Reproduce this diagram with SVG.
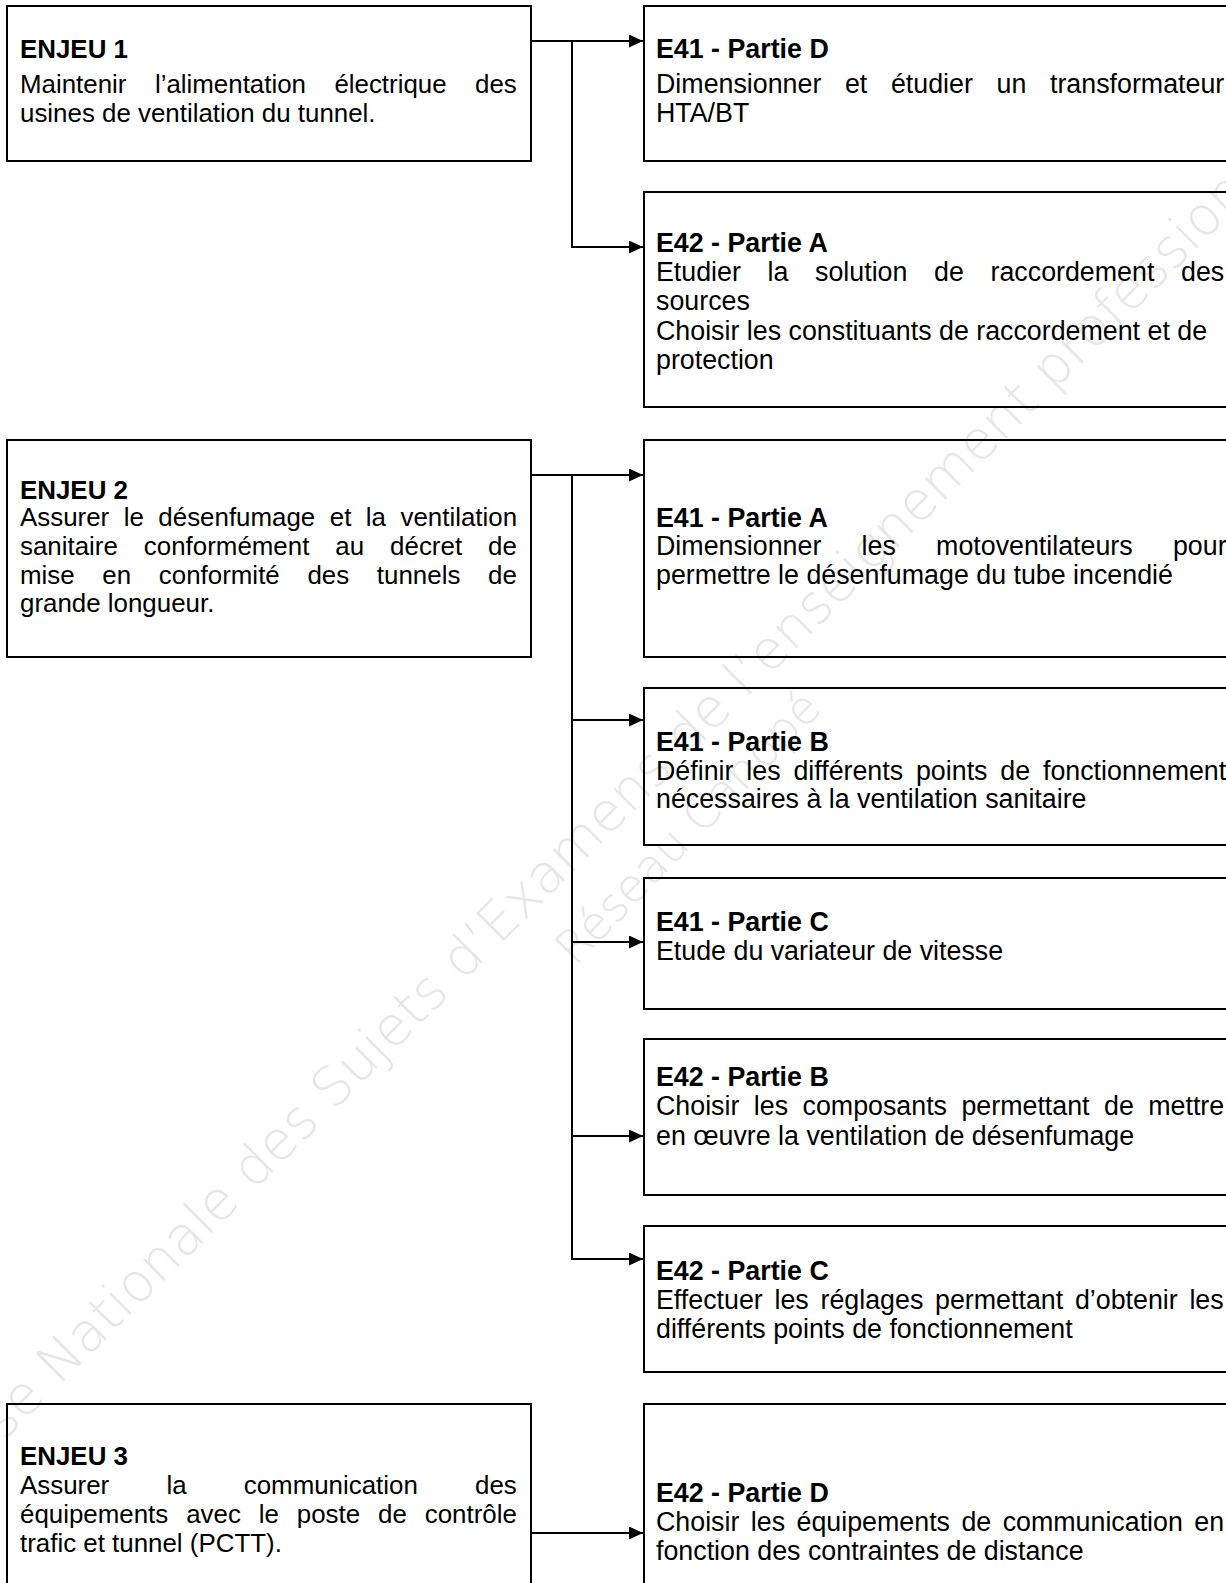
<svg xmlns="http://www.w3.org/2000/svg" width="1226" height="1583" viewBox="0 0 1226 1583">
<style>
.box{fill:none;stroke:#000;stroke-width:2}
.t{font-family:"Liberation Sans",Arial,sans-serif;fill:#000}
.l{font-size:25.9px}
.r{font-size:26.8px}
.b{font-weight:bold}
.conn{fill:none;stroke:#000;stroke-width:2}
.wm{font-family:"DejaVu Sans","Liberation Sans",sans-serif;font-weight:200;fill:#e6e6e6}
</style>
<defs>
<marker id="arr" markerUnits="userSpaceOnUse" markerWidth="14" markerHeight="13" refX="14" refY="6.5" orient="auto">
<path d="M0,0 L14,6.5 L0,13 Z" fill="#000"/>
</marker>
</defs>
<rect x="0" y="0" width="1226" height="1583" fill="#fff"/>
<g id="watermark">
<text class="wm" font-size="54" transform="translate(-45,1490) rotate(-45)">Base Nationale des Sujets d’Examens de l’enseignement professionnel</text>
<text class="wm" font-size="46" transform="translate(575,967) rotate(-46)">Réseau Canopé</text>
</g>
<g id="connectors">
<path class="conn" d="M531,41 H643" marker-end="url(#arr)"/>
<path class="conn" d="M572,41 V247 H643" marker-end="url(#arr)"/>
<path class="conn" d="M531,475 H643" marker-end="url(#arr)"/>
<path class="conn" d="M572,475 V1259 H643" marker-end="url(#arr)"/>
<path class="conn" d="M572,720 H643" marker-end="url(#arr)"/>
<path class="conn" d="M572,942 H643" marker-end="url(#arr)"/>
<path class="conn" d="M572,1136 H643" marker-end="url(#arr)"/>
<path class="conn" d="M531,1533 H643" marker-end="url(#arr)"/>
</g>
<g id="enjeu1">
<rect class="box" x="7" y="6" width="524" height="155"/>
<text class="t l b" x="20" y="58">ENJEU 1</text>
<text class="t l" x="20" y="93" word-spacing="21.2">Maintenir l’alimentation électrique des</text>
<text class="t l" x="20" y="122">usines de ventilation du tunnel.</text>
</g>
<g id="e41d">
<rect class="box" x="644" y="6" width="600" height="155"/>
<text class="t r b" x="656" y="58">E41 - Partie D</text>
<text class="t r" x="656" y="93" word-spacing="16.2">Dimensionner et étudier un transformateur</text>
<text class="t r" x="656" y="122">HTA/BT</text>
</g>
<g id="e42a">
<rect class="box" x="644" y="192" width="600" height="215"/>
<text class="t r b" x="656" y="252">E42 - Partie A</text>
<text class="t r" x="656" y="281" word-spacing="19.2">Etudier la solution de raccordement des</text>
<text class="t r" x="656" y="310">sources</text>
<text class="t r" x="656" y="340">Choisir les constituants de raccordement et de</text>
<text class="t r" x="656" y="369">protection</text>
</g>
<g id="enjeu2">
<rect class="box" x="7" y="440" width="524" height="217"/>
<text class="t l b" x="20" y="499">ENJEU 2</text>
<text class="t l" x="20" y="526" word-spacing="7.3">Assurer le désenfumage et la ventilation</text>
<text class="t l" x="20" y="555" word-spacing="18.8">sanitaire conformément au décret de</text>
<text class="t l" x="20" y="584" word-spacing="20.5">mise en conformité des tunnels de</text>
<text class="t l" x="20" y="612">grande longueur.</text>
</g>
<g id="e41a">
<rect class="box" x="644" y="440" width="600" height="217"/>
<text class="t r b" x="656" y="527">E41 - Partie A</text>
<text class="t r" x="656" y="555" word-spacing="32.8">Dimensionner les motoventilateurs pour</text>
<text class="t r" x="656" y="584">permettre le désenfumage du tube incendié</text>
</g>
<g id="e41b">
<rect class="box" x="644" y="688" width="600" height="157"/>
<text class="t r b" x="656" y="751">E41 - Partie B</text>
<text class="t r" x="656" y="780" word-spacing="5.4">Définir les différents points de fonctionnement</text>
<text class="t r" x="656" y="808">nécessaires à la ventilation sanitaire</text>
</g>
<g id="e41c">
<rect class="box" x="644" y="878" width="600" height="131"/>
<text class="t r b" x="656" y="931">E41 - Partie C</text>
<text class="t r" x="656" y="960">Etude du variateur de vitesse</text>
</g>
<g id="e42b">
<rect class="box" x="644" y="1039" width="600" height="156"/>
<text class="t r b" x="656" y="1086">E42 - Partie B</text>
<text class="t r" x="656" y="1115" word-spacing="7">Choisir les composants permettant de mettre</text>
<text class="t r" x="656" y="1145">en œuvre la ventilation de désenfumage</text>
</g>
<g id="e42c">
<rect class="box" x="644" y="1226" width="600" height="146"/>
<text class="t r b" x="656" y="1280">E42 - Partie C</text>
<text class="t r" x="656" y="1309" word-spacing="4.3">Effectuer les réglages permettant d’obtenir les</text>
<text class="t r" x="656" y="1338">différents points de fonctionnement</text>
</g>
<g id="enjeu3">
<rect class="box" x="7" y="1404" width="524" height="200"/>
<text class="t l b" x="20" y="1465">ENJEU 3</text>
<text class="t l" x="20" y="1494" word-spacing="50">Assurer la communication des</text>
<text class="t l" x="20" y="1523" word-spacing="10.7">équipements avec le poste de contrôle</text>
<text class="t l" x="20" y="1552">trafic et tunnel (PCTT).</text>
</g>
<g id="e42d">
<rect class="box" x="644" y="1404" width="600" height="200"/>
<text class="t r b" x="656" y="1502">E42 - Partie D</text>
<text class="t r" x="656" y="1531" word-spacing="4">Choisir les équipements de communication en</text>
<text class="t r" x="656" y="1560">fonction des contraintes de distance</text>
</g>
</svg>
